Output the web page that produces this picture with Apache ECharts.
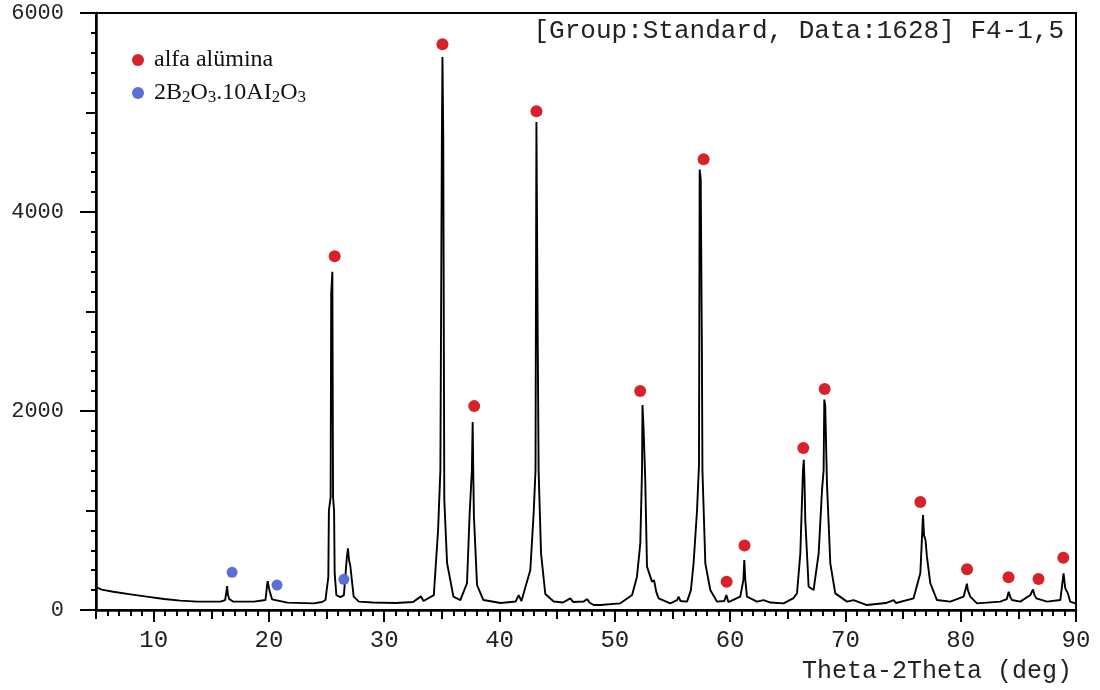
<!DOCTYPE html>
<html>
<head>
<meta charset="utf-8">
<script src="https://cdn.jsdelivr.net/npm/echarts@6/dist/echarts.min.js"></script>
<style>html,body{margin:0;padding:0;background:#fff;}#c{width:1100px;height:690px;}</style>
</head>
<body>
<div id="c"></div>
<script>
// XRD profile (2θ in degrees, intensity in counts)
const twoTheta = [
  5.0, 5.5, 6.5, 8.0, 9.4, 10.9, 12.3, 13.8, 15.8, 16.2, 16.33, 16.37, 16.45, 16.55, 16.9,
  18.7, 19.7, 19.85, 19.89, 19.97, 20.06, 20.27, 21.6, 23.9, 24.6, 24.9, 25.15, 25.2, 25.35,
  25.4, 25.5, 25.56, 25.65, 25.7, 25.85, 26.2, 26.5, 26.75, 26.85, 26.95, 27.05, 27.35, 27.8,
  29.0, 31.0, 32.5, 33.19, 33.4, 34.3, 34.67, 34.87, 35.0, 35.05, 35.12, 35.21, 35.45, 36.0,
  36.6, 37.18, 37.41, 37.6, 37.67, 37.72, 37.78, 38.05, 38.6, 40.1, 41.4, 41.66, 41.9, 42.67,
  42.96, 43.12, 43.2, 43.32, 43.39, 43.6, 43.97, 44.7, 45.5, 46.14, 46.4, 47.3, 47.59, 47.8,
  48.16, 48.74, 50.48, 51.5, 51.92, 52.21, 52.36, 52.4, 52.5, 52.64, 52.79, 53.22, 53.4, 53.6,
  53.8, 54.81, 55.4, 55.53, 55.7, 56.26, 56.6, 56.83, 57.13, 57.3, 57.36, 57.45, 57.55, 57.6,
  57.85, 58.28,
  58.86, 59.5, 59.67, 59.85, 60.0, 60.88, 61.15, 61.23, 61.32, 61.46, 62.33, 62.9, 63.5, 64.64,
  65.5, 65.8, 66.09, 66.32, 66.39, 66.45, 66.52, 66.81, 67.24, 67.68, 67.97, 68.11, 68.17, 68.25,
  68.4, 68.69, 69.12, 70.14, 70.71, 71.87, 73.5, 74.18, 74.4, 75.91, 76.5, 76.73, 76.82, 76.95,
  77.07, 77.36, 77.94, 79.1, 80.25, 80.54, 80.62, 80.83, 81.41, 83.43, 84.0, 84.16, 84.3, 84.45,
  85.17, 86.04, 86.27, 86.4, 86.56, 87.49, 88.64, 88.85, 88.92, 89.07, 89.3, 89.5, 89.93, 90.0
];
const counts = [
  230, 205, 184, 157, 134, 110, 94, 84, 84, 100, 200, 241, 150, 110, 84,
  84, 100, 260, 291, 240, 191, 107, 74, 67, 80, 100, 330, 1000, 1135,
  3180, 3400, 1135, 1000, 370, 150, 130, 150, 520, 620, 500, 450, 134, 84,
  75, 70, 80, 137, 90, 150, 804, 1406, 4755, 5558, 4755, 1105, 472, 134,
  100, 271, 974, 1400, 1890, 1400, 937, 250, 100, 70, 85, 150, 90, 402,
  974, 1400, 4905, 2600, 1400, 569, 161, 85, 75, 117, 80, 85, 110, 75,
  50, 50, 67, 150, 335, 670, 1406, 2060, 1800, 1306, 436, 285, 300, 180,
  117, 67, 100, 134, 90, 84, 200, 469, 1000, 1457, 4427, 4330, 2645, 1400,
  469, 201,
  84, 90, 150, 80, 67, 134, 300, 502, 300, 134, 84, 100, 75, 67,
  120, 167, 569, 1406, 1510, 1300, 904, 234, 201, 569, 1205, 1406, 2115, 2050,
  1272, 469, 167, 84, 100, 50, 70, 100, 70, 117, 372, 954, 750, 700,
  536, 270, 100, 84, 134, 264, 200, 134, 67, 84, 110, 184, 130, 100,
  84, 151, 207, 150, 117, 84, 100, 300, 367, 217, 167, 84, 67, 70
];
// phase markers
const aluminaX = [25.7, 35.05, 37.8, 43.2, 52.2, 57.7, 59.7, 61.25, 66.35, 68.2, 76.5, 80.55, 84.15, 86.75, 88.9];
const aluminaY = [3556, 5686, 2049, 5012, 2200, 4530, 284, 648, 1627, 2220, 1085, 409, 328, 311, 525];
const boronX = [16.8, 20.7, 26.5];
const boronY = [379, 251, 308];
// axis ticks / labels
const xLabelValues = [10, 20, 30, 40, 50, 60, 70, 80, 90];
const yMediumTicks = [1000, 3000, 5000];

const chart = echarts.init(document.getElementById('c'), null, {renderer: 'canvas'});
const monoFont = 'Liberation Mono';
const option = {
  animation: false,
  backgroundColor: '#fff',
  title: {
    text: '[Group:Standard, Data:1628] F4-1,5',
    right: 31, top: 13,
    textStyle: {fontFamily: monoFont, fontSize: 26, fontWeight: 'normal', color: '#222'}
  },
  legend: {
    orient: 'vertical', left: 127, top: 43, itemGap: 7,
    itemWidth: 22, itemHeight: 12, icon: 'circle', symbolKeepAspect: true,
    data: ['alfa alümina', '2B2O3.10AI2O3'],
    formatter: function (n) {
      if (n === '2B2O3.10AI2O3') return '{m|2B}{s|2}{m|O}{s|3}{m|.10AI}{s|2}{m|O}{s|3}';
      return '{m|' + n + '}';
    },
    textStyle: {
      fontFamily: 'Liberation Serif', fontSize: 24, color: '#111',
      rich: {
        m: {fontFamily: 'Liberation Serif', fontSize: 24, color: '#111', lineHeight: 26},
        s: {fontFamily: 'Liberation Serif', fontSize: 17, color: '#111', lineHeight: 26, verticalAlign: 'bottom', padding: [10, 0, 0, 0]}
      }
    }
  },
  grid: {left: 96, right: 24, top: 13, bottom: 80, show: true, borderColor: '#000', borderWidth: 2, backgroundColor: '#fff', outerBoundsMode: 'none'},
  xAxis: [{
    type: 'value', min: 5, max: 90, interval: 5,
    axisLine: {onZero: false, lineStyle: {color: '#000', width: 2.5}},
    axisTick: {show: true, length: 9, lineStyle: {color: '#000', width: 2}},
    minorTick: {show: true, splitNumber: 5, length: 6, lineStyle: {color: '#000', width: 2}},
    axisLabel: {show: true, margin: 19, fontFamily: monoFont, fontSize: 24, color: '#222',
      formatter: function (v) { return v % 10 === 0 ? String(v) : ''; }},
    splitLine: {show: false},
    name: 'Theta-2Theta (deg)', nameLocation: 'end', nameGap: -4,
    nameTextStyle: {fontFamily: monoFont, fontSize: 25, color: '#222', align: 'right', verticalAlign: 'top', padding: [49, 0, 0, 0]}
  }, {
    type: 'value', min: 5, max: 90, position: 'bottom', gridIndex: 0,
    axisLine: {show: false},
    axisTick: {show: true, length: 12, customValues: xLabelValues, lineStyle: {color: '#000', width: 2}},
    axisLabel: {show: false},
    splitLine: {show: false}
  }],
  yAxis: [{
    type: 'value', min: 0, max: 6000, interval: 2000,
    axisLine: {show: true, onZero: false, lineStyle: {color: '#000', width: 2.5}},
    axisTick: {show: true, length: 16, lineStyle: {color: '#000', width: 2}},
    minorTick: {show: true, splitNumber: 10, length: 5, lineStyle: {color: '#000', width: 2}},
    axisLabel: {margin: 32, fontFamily: monoFont, fontSize: 22, color: '#222',
      formatter: function (v) { return String(v); }},
    splitLine: {show: false}
  }, {
    type: 'value', min: 0, max: 6000, position: 'left', gridIndex: 0,
    axisLine: {show: false},
    axisTick: {show: true, length: 10, customValues: yMediumTicks, lineStyle: {color: '#000', width: 2}},
    axisLabel: {show: false},
    splitLine: {show: false}
  }],
  series: [{
    name: 'XRD', type: 'line', xAxisIndex: 0, yAxisIndex: 0,
    data: twoTheta.map((t, i) => [t, counts[i]]),
    showSymbol: false, symbol: 'none',
    lineStyle: {color: '#000', width: 1.9}, z: 2
  }, {
    name: 'alfa alümina', type: 'scatter', symbol: 'circle', symbolSize: 12,
    data: aluminaX.map((t, i) => [t, aluminaY[i]]),
    itemStyle: {color: '#d8222b', opacity: 1}, z: 3
  }, {
    name: '2B2O3.10AI2O3', type: 'scatter', symbol: 'circle', symbolSize: 11,
    data: boronX.map((t, i) => [t, boronY[i]]),
    itemStyle: {color: '#5a6ed8', opacity: 1}, z: 3
  }]
};
chart.setOption(option);
</script>
</body>
</html>
